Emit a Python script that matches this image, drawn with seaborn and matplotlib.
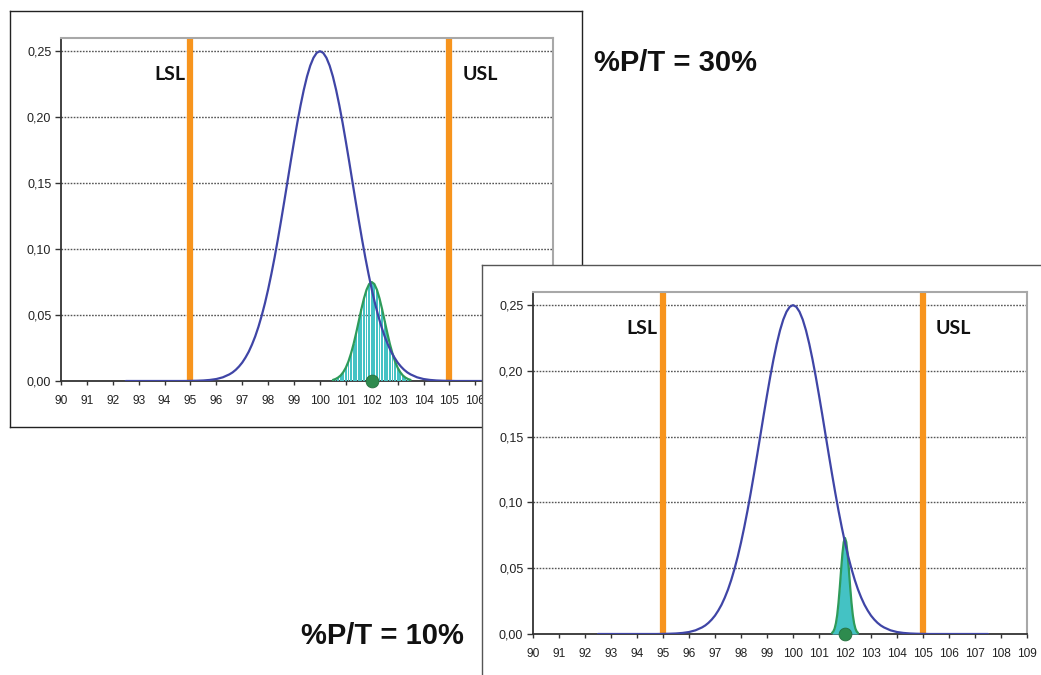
import numpy as np
import matplotlib
matplotlib.use("Agg")
import matplotlib.pyplot as plt
import seaborn as sns

# ---------------- data ----------------
x_ticks = list(range(90, 110))
x_tick_labels = [str(v) for v in x_ticks]
y_ticks = [0.00, 0.05, 0.10, 0.15, 0.20, 0.25]
y_tick_labels = ["0,00", "0,05", "0,10", "0,15", "0,20", "0,25"]

LSL = 95
USL = 105
target = 102

# process distribution (blue): tails sampled every 0.25, centre every 0.125
blue_x = np.concatenate([np.linspace(92.5, 96.5, 17),
                         np.linspace(96.625, 103.375, 55),
                         np.linspace(103.5, 107.5, 17)])
blue_tail = [0, 0, 0, 0, 0, 0, 0, 0, 0, 0,
             0.0001, 0.0002, 0.0004, 0.0008, 0.0015, 0.0028, 0.0050]
blue_centre = [0.0065, 0.0085, 0.0110, 0.0140, 0.0178, 0.0222, 0.0276, 0.0338,
               0.0411, 0.0495, 0.0589, 0.0695, 0.0812, 0.0938, 0.1074, 0.1217,
               0.1365, 0.1516, 0.1668, 0.1815, 0.1957, 0.2088, 0.2206, 0.2308,
               0.2390, 0.2450, 0.24875]
blue_y = blue_tail + blue_centre + [0.2500] + blue_centre[::-1] + blue_tail[::-1]

# measurement distribution, %P/T = 30% (sampled every 0.1 from 100.5 to 103.5)
green30_x = np.linspace(100.5, 103.5, 31)
g30_left = [0.0008, 0.0015, 0.0026, 0.0042, 0.0067, 0.0101, 0.0148, 0.0209,
            0.0281, 0.0365, 0.0455, 0.0545, 0.0626, 0.0692, 0.0735]
green30_y = g30_left + [0.0750] + g30_left[::-1]

# measurement distribution, %P/T = 10% (sampled every 0.05 from 101.5 to 102.5)
green10_x = np.linspace(101.5, 102.5, 21)
g10_left = [0.0008, 0.0019, 0.0041, 0.0081, 0.0144, 0.0237, 0.0355, 0.0487,
            0.0610, 0.0698]
green10_y = g10_left + [0.0730] + g10_left[::-1]

title30 = "%P/T = 30%"
title10 = "%P/T = 10%"

# ---------------- style ----------------
sns.set_style("white")
plt.rcParams['font.family'] = ['Liberation Sans', 'DejaVu Sans']

BLUE = "#3F45A6"
ORANGE = "#F7941D"
TEAL = "#44C2C4"
GREEN = "#2E9B5A"
DOT = "#2E8B4E"

fig = plt.figure(figsize=(10.41, 6.75), dpi=100)
fig.patch.set_facecolor("white")


def frame(rect, color):
    f = fig.add_axes(rect)
    f.set_xticks([])
    f.set_yticks([])
    f.set_facecolor("white")
    for s in f.spines.values():
        s.set_visible(True)
        s.set_color(color)
        s.set_linewidth(1.0)
    return f


def panel(rect, gx, gy, striped):
    ax = fig.add_axes(rect)
    ax.set_facecolor("white")
    ax.set_xlim(90, 109)
    ax.set_ylim(0, 0.26)
    for yv in y_ticks[1:]:
        ax.axhline(yv, color="#555555", lw=1.0, ls=(0, (1.2, 1.0)), zorder=1)
    for v in (LSL, USL):
        ax.axvline(v, color=ORANGE, lw=4.5, zorder=2)
    if striped:
        ax.bar(gx, gy, width=0.07, color=TEAL, lw=0, zorder=3)
    else:
        ax.fill_between(gx, gy, color=TEAL, lw=0, zorder=3)
    sns.lineplot(x=gx, y=gy, color=GREEN, lw=1.6, ax=ax, zorder=4)
    sns.lineplot(x=blue_x, y=blue_y, color=BLUE, lw=1.6, ax=ax, zorder=5)
    sns.scatterplot(x=[target], y=[0], s=85, color=DOT, edgecolor="#25703F",
                    linewidth=0.6, ax=ax, zorder=6, clip_on=False)
    ax.set_xlabel("")
    ax.set_ylabel("")
    ax.set_xticks(x_ticks)
    ax.set_xticklabels(x_tick_labels)
    ax.set_yticks(y_ticks)
    ax.set_yticklabels(y_tick_labels)
    ax.tick_params(axis="y", left=True, direction="out", length=4, width=1,
                   color="#333333", pad=3, labelsize=9, labelcolor="#222222")
    ax.tick_params(axis="x", bottom=True, direction="out", length=3, width=1,
                   color="#333333", pad=7, labelsize=8.6, labelcolor="#222222")
    for side in ("left", "bottom"):
        ax.spines[side].set_color("#333333")
        ax.spines[side].set_linewidth(1.3)
    for side in ("top", "right"):
        ax.spines[side].set_visible(True)
        ax.spines[side].set_color("#A8A8A8")
        ax.spines[side].set_linewidth(1.5)
    ax.text(LSL - 0.2, 0.232, "LSL", ha="right", va="center",
            fontfamily=["Lato", "DejaVu Sans"], fontweight="bold", fontsize=14,
            color="#111111")
    ax.text(USL + 0.5, 0.232, "USL", ha="left", va="center",
            fontfamily=["Lato", "DejaVu Sans"], fontweight="bold", fontsize=14,
            color="#111111")
    return ax


frame([10 / 1041, 1 - 427 / 675, 572 / 1041, 416 / 675], "#222222")
panel([61 / 1041, 1 - 381 / 675, 492 / 1041, 343 / 675], green30_x, green30_y, True)
frame([482 / 1041, -0.02, 0.6, 1 - 265 / 675 + 0.02], "#555555")
panel([533 / 1041, 1 - 634 / 675, 494 / 1041, 342 / 675], green10_x, green10_y, False)

fig.text(676 / 1041, 1 - 63 / 675, title30, ha="center", va="center",
         fontsize=21, fontweight="bold", color="#111111")
fig.text(382 / 1041, 1 - 636 / 675, title10, ha="center", va="center",
         fontsize=21, fontweight="bold", color="#111111")

fig.savefig("out.png", dpi=100, facecolor="white")
